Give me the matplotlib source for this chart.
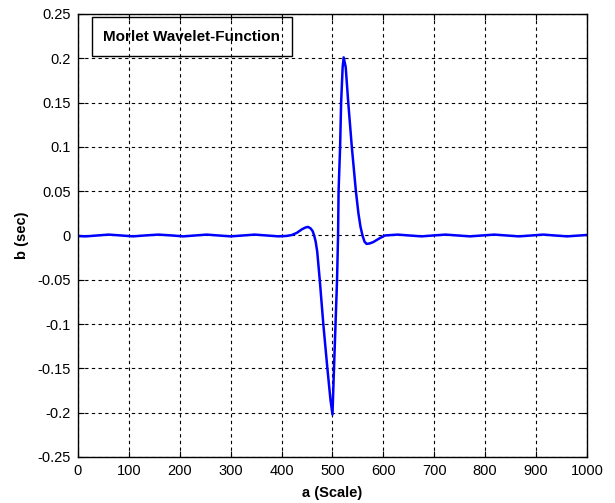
import matplotlib
matplotlib.use("Agg")
import matplotlib.pyplot as plt
from matplotlib.patches import Rectangle

plt.rcParams['font.family'] = ['Liberation Sans', 'DejaVu Sans']

# Data
scale_a = [0, 15, 38, 60, 85, 108, 131, 158, 185, 207, 230, 253, 276, 300, 324, 347, 371, 394,
           410, 420, 430, 440, 447, 452, 457, 461, 464, 467, 470, 475, 482, 490, 496, 500, 503, 506, 509,
           511, 512, 515, 517, 520, 522, 526, 531, 538, 546, 551, 555, 559, 563, 567, 573, 580, 593,
           603, 628, 651, 675, 698, 722, 746, 770, 794, 818, 842, 866, 891, 914, 937, 961, 986, 1000]
b_sec = [-0.0007, -0.001, 0.0, 0.001, 0.0, -0.001, 0.0, 0.001, 0.0, -0.001, 0.0, 0.001, 0.0, -0.001,
         0.0, 0.001, 0.0, -0.001,
         -0.0005, 0.0005, 0.003, 0.007, 0.009, 0.0097, 0.008, 0.005, 0.0, -0.007, -0.018, -0.05, -0.1, -0.15,
         -0.185, -0.202, -0.15, -0.1, -0.05,
         0.0, 0.05, 0.1, 0.15, 0.19, 0.201, 0.19, 0.15, 0.1, 0.05, 0.025, 0.01, 0.0, -0.007, -0.0095,
         -0.009, -0.0075, -0.003,
         0.0, 0.001, 0.0, -0.001, 0.0, 0.001, 0.0, -0.001, 0.0, 0.001, 0.0, -0.001, 0.0, 0.001,
         0.0, -0.001, 0.0, 0.0006]

x_ticks = [0, 100, 200, 300, 400, 500, 600, 700, 800, 900, 1000]
y_ticks = [-0.25, -0.2, -0.15, -0.1, -0.05, 0, 0.05, 0.1, 0.15, 0.2, 0.25]
y_tick_labels = ['-0.25', '-0.2', '-0.15', '-0.1', '-0.05', '0', '0.05', '0.1', '0.15', '0.2', '0.25']

fig = plt.figure(figsize=(6.15, 5.03), dpi=100)
ax = fig.add_axes([0.1268, 0.0915, 0.8276, 0.8807])

ax.plot(scale_a, b_sec, color='#0000ff', linewidth=1.8)

ax.set_xlim(0, 1000)
ax.set_ylim(-0.25, 0.25)
ax.set_xticks(x_ticks)
ax.set_xticklabels([str(t) for t in x_ticks])
ax.set_yticks(y_ticks)
ax.set_yticklabels(y_tick_labels)
ax.tick_params(direction='in', length=4, width=0.8, labelsize=10.5, pad=5,
               top=True, right=True)
ax.grid(True, color='black', linestyle=(0, (3, 3)), linewidth=0.8)
for s in ax.spines.values():
    s.set_linewidth(1.0)
    s.set_color('black')

ax.set_xlabel('a (Scale)', fontsize=10.5, fontweight='bold', labelpad=6)
ax.set_ylabel('b (sec)', fontsize=10.5, fontweight='bold', labelpad=6)

ax.add_patch(Rectangle((0.0275, 0.905), 0.3925, 0.088, transform=ax.transAxes,
                       fill=False, edgecolor='black', linewidth=1.0, zorder=5))
ax.text(0.224, 0.949, 'Morlet Wavelet-Function', transform=ax.transAxes,
        ha='center', va='center', fontsize=11, fontweight='bold', zorder=6)

fig.savefig('out.png', dpi=100)
